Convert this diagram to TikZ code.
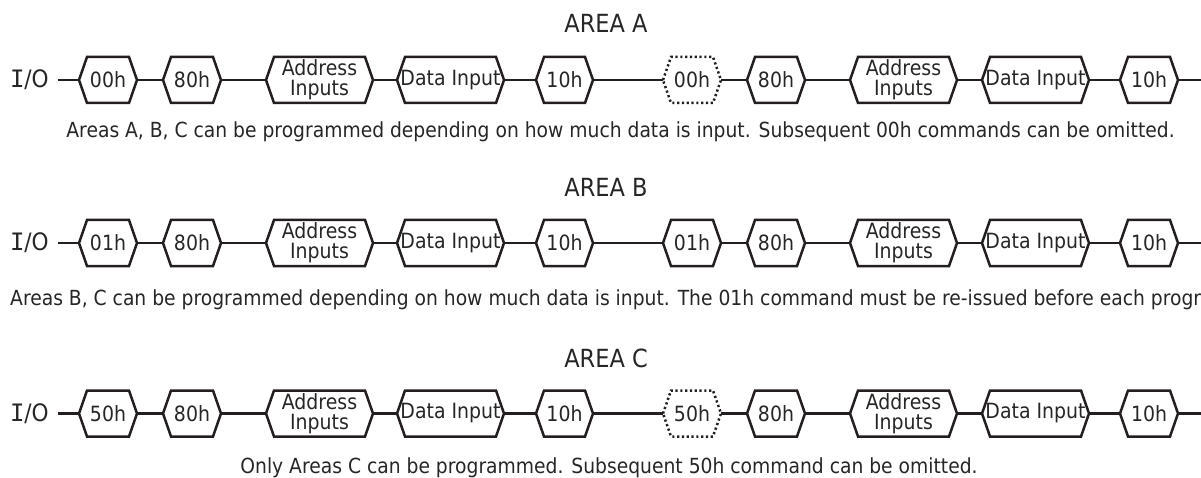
\documentclass[tikz,border=0pt]{standalone}
\usepackage{fontspec}
\setmainfont{DejaVu Sans}[FakeStretch=0.9]
\newfontfamily\iofont{DejaVu Sans Mono}
\definecolor{ink}{HTML}{231F20}
\definecolor{txt}{HTML}{262626}
\newcommand\hexbox[6]{%
  \node[hexlabel, minimum width={#3-#2}] (#1) at ({(#2+#3)/2},#4) {#5};
  \draw[hexline,#6] (#1.west) -- ([xshift=8pt]#1.north west) -- ([xshift=-8pt]#1.north east)
     -- (#1.east) -- ([xshift=-8pt]#1.south east) -- ([xshift=8pt]#1.south west) -- cycle;
}
\tikzset{
  hexlabel/.style={inner sep=0pt, outer sep=0pt, minimum height=46pt, align=center,
     text=txt, font=\fontsize{21}{20}\selectfont},
  hexline/.style={draw=ink, line width=2.5pt, line join=miter},
  dottedhex/.style={dash pattern=on 2.2pt off 2.6pt},
  wire/.style={draw=ink, line width=2.5pt},
  title/.style={anchor=base, text=txt, inner sep=0pt, font=\fontsize{25}{28}\selectfont},
  caption/.style={anchor=base, text=txt, inner sep=0pt, font=\fontsize{20.8}{24}\selectfont},
  iolabel/.style={inner sep=0pt, outer sep=0pt, anchor=west,
     text=txt, font=\fontsize{24}{26}\selectfont},
}
\begin{document}
\begin{tikzpicture}[x=1pt,y=-1pt]
\useasboundingbox (0,0) rectangle (1201,478);
\clip (0,0) rectangle (1201,478);
% titles
\node[title] (tA) at (606,33) {AREA A};
\node[title] (tB) at (606,197) {AREA B};
\node[title] (tC) at (606,367) {AREA C};
% captions
\node[caption] (cA) at (620.5,138) {Areas A, B, C can be programmed depending on how much data is input. Subsequent 00h commands can be omitted.};
\node[caption, anchor=base west] (cB) at (10,305) {Areas B, C can be programmed depending on how much data is input. The 01h command must be re-issued before each progr};
\node[caption] (cC) at (609,473) {Only Areas C can be programmed. Subsequent 50h command can be omitted.};
% rows
\foreach \r/\y/\cmd/\sty in {1/80/00h/dottedhex, 2/243/01h/, 3/413.5/50h/dottedhex}{
  \node[iolabel] (io\r) at (10,\y) {{\iofont I}/O};
  \hexbox{r\r n1}{79}{137}{\y}{\cmd}{}
  \hexbox{r\r n2}{163}{221}{\y}{80h}{}
  \hexbox{r\r n3}{266}{373}{\y}{Address\\Inputs}{}
  \hexbox{r\r n4}{397}{504}{\y}{Data Input}{}
  \hexbox{r\r n5}{536}{593}{\y}{10h}{}
  \hexbox{r\r n6}{663}{721}{\y}{\cmd}{\sty}
  \hexbox{r\r n7}{747}{805}{\y}{80h}{}
  \hexbox{r\r n8}{850}{957}{\y}{Address\\Inputs}{}
  \hexbox{r\r n9}{982}{1089}{\y}{Data Input}{}
  \hexbox{r\r n10}{1120}{1178}{\y}{10h}{}
  \coordinate (end\r) at (1201,\y);
  \draw[wire] ([xshift=9pt]io\r.east) -- (r\r n1.west);
  \draw[wire] (r\r n1.east) -- (r\r n2.west);
  \draw[wire] (r\r n2.east) -- (r\r n3.west);
  \draw[wire] (r\r n3.east) -- (r\r n4.west);
  \draw[wire] (r\r n4.east) -- (r\r n5.west);
  \draw[wire] (r\r n5.east) -- (r\r n6.west);
  \draw[wire] (r\r n6.east) -- (r\r n7.west);
  \draw[wire] (r\r n7.east) -- (r\r n8.west);
  \draw[wire] (r\r n8.east) -- (r\r n9.west);
  \draw[wire] (r\r n9.east) -- (r\r n10.west);
  \draw[wire] (r\r n10.east) -- (end\r);
}
\end{tikzpicture}
\end{document}
